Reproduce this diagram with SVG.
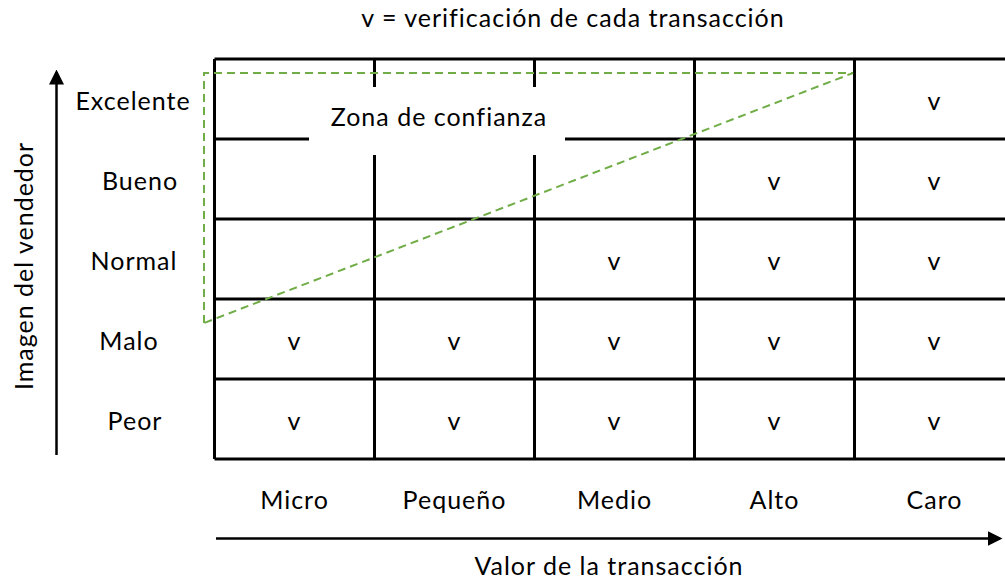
<svg xmlns="http://www.w3.org/2000/svg" width="1005" height="581" viewBox="0 0 1005 581">
<style>
text{font-family:"Lato","Open Sans",sans-serif;font-size:25px;letter-spacing:1px;fill:#000}
.m{text-anchor:middle}
.g{stroke:#000;stroke-width:3;fill:none}
.z{stroke:#70AD47;stroke-width:2;fill:none;stroke-dasharray:8 5}
</style>
<defs>
<marker id="ah" markerWidth="6" markerHeight="6" refX="5" refY="3" orient="auto" markerUnits="strokeWidth">
<path d="M0,0 L6,3 L0,6 Z" fill="#000"/>
</marker>
</defs>
<rect width="1005" height="581" fill="#fff"/>
<text class="m" x="573" y="27">v = verificación de cada transacción</text>
<g id="grid">
<path class="g" d="M214.5,59 H1020 M214.5,139 H1020 M214.5,219 H1020 M214.5,299 H1020 M214.5,379 H1020 M214.5,459 H1020 M214.5,59 V459 M374.5,59 V459 M534.5,59 V459 M694.5,59 V459 M854.5,59 V459"/>
</g>
<g id="zone">
<rect x="309" y="87" width="256" height="68" fill="#fff"/>
<text class="m" x="439" y="126">Zona de confianza</text>
<path class="z" d="M204,323 V73 H853 L204,323"/>
</g>
<g id="rows">
<text class="m" x="133" y="110">Excelente</text>
<text class="m" x="140" y="190">Bueno</text>
<text class="m" x="134" y="270">Normal</text>
<text class="m" x="129" y="350">Malo</text>
<text class="m" x="135" y="430">Peor</text>
</g>
<g id="cols">
<text class="m" x="294.5" y="509">Micro</text>
<text class="m" x="454.5" y="509">Pequeño</text>
<text class="m" x="614.5" y="509">Medio</text>
<text class="m" x="774.5" y="509">Alto</text>
<text class="m" x="934.5" y="509">Caro</text>
</g>
<g id="marks">
<text class="m" x="934.5" y="110">v</text>
<text class="m" x="774.5" y="190">v</text><text class="m" x="934.5" y="190">v</text>
<text class="m" x="614.5" y="270">v</text><text class="m" x="774.5" y="270">v</text><text class="m" x="934.5" y="270">v</text>
<text class="m" x="294.5" y="350">v</text><text class="m" x="454.5" y="350">v</text><text class="m" x="614.5" y="350">v</text><text class="m" x="774.5" y="350">v</text><text class="m" x="934.5" y="350">v</text>
<text class="m" x="294.5" y="430">v</text><text class="m" x="454.5" y="430">v</text><text class="m" x="614.5" y="430">v</text><text class="m" x="774.5" y="430">v</text><text class="m" x="934.5" y="430">v</text>
</g>
<g id="connectors">
<line x1="56.5" y1="455" x2="56.5" y2="72" stroke="#000" stroke-width="2.5" marker-end="url(#ah)"/>
<line x1="216" y1="538.5" x2="1000" y2="538.5" stroke="#000" stroke-width="2.5" marker-end="url(#ah)"/>
</g>
<text class="m" transform="translate(33,266) rotate(-90)" x="0" y="0">Imagen del vendedor</text>
<text class="m" x="609" y="575">Valor de la transacción</text>
</svg>
